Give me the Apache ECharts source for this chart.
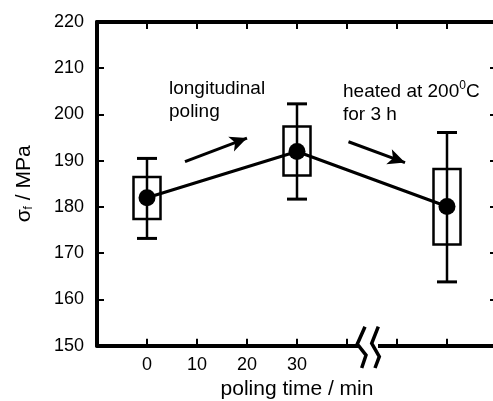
<!DOCTYPE html>
<html>
<head>
<meta charset="utf-8">
<script src="https://cdn.jsdelivr.net/npm/echarts@6/dist/echarts.min.js"></script>
<style>
  html, body { margin: 0; padding: 0; background: #fff; }
  #chart { width: 493px; height: 401px; }
</style>
</head>
<body>
<div id="chart"></div>
<script>
// data
var polingTime = [0, 30, 60];          // 60 = position of the heated sample, after the axis break
var meanValue = [182, 192, 180.1];
var boxLow = [177.4, 186.8, 171.9];
var boxHigh = [186.5, 197.4, 188.2];
var whiskerLow = [173.2, 181.7, 163.8];
var whiskerHigh = [190.5, 202.3, 196.1];
var xTickLabels = ['0', '10', '20', '30'];
var breakAt = 44.2;
// annotation arrows: [x0, y0, x1, y1] in data units
var arrows = [
    [7.6, 189.8, 20, 194.9],
    [40.3, 194.1, 51.6, 189.6]
];

var FONT = 'Liberation Sans, Arial, sans-serif';

var chart = echarts.init(document.getElementById('chart'));

var meanData = polingTime.map(function (x, i) { return [x, meanValue[i]]; });
var boxData = polingTime.map(function (x, i) {
    return [x, whiskerLow[i], boxLow[i], boxHigh[i], whiskerHigh[i]];
});

function renderBox(params, api) {
    var x = api.value(0);
    var wl = api.coord([x, api.value(1)]);
    var bl = api.coord([x, api.value(2)]);
    var bh = api.coord([x, api.value(3)]);
    var wh = api.coord([x, api.value(4)]);
    var cx = wl[0];
    var style = { stroke: '#000', lineWidth: 2.5, fill: null };
    return {
        type: 'group',
        children: [
            { type: 'line', shape: { x1: cx, y1: wl[1], x2: cx, y2: wh[1] }, style: style },
            { type: 'line', shape: { x1: cx - 10, y1: wl[1], x2: cx + 10, y2: wl[1] }, style: { stroke: '#000', lineWidth: 3 } },
            { type: 'line', shape: { x1: cx - 10, y1: wh[1], x2: cx + 10, y2: wh[1] }, style: { stroke: '#000', lineWidth: 3 } },
            { type: 'rect', shape: { x: cx - 13.5, y: bh[1], width: 27, height: bl[1] - bh[1] }, style: style }
        ]
    };
}

// the "<<" axis break on the bottom axis
function renderBreak(params, api) {
    var p = api.coord([api.value(0), 150]);
    var cx = p[0], cy = p[1];
    function pts(list) {
        return list.map(function (d) { return [cx + d[0], cy + d[1]]; });
    }
    var st = { stroke: '#000', lineWidth: 3.5, fill: null, lineJoin: 'miter' };
    return {
        type: 'group',
        children: [
            { type: 'rect', shape: { x: cx - 9, y: cy - 3.5, width: 19, height: 7 }, style: { fill: '#fff' } },
            { type: 'polyline', shape: { points: pts([[-3, -19], [-10.7, -1.7], [-2, 9.5], [-6.3, 22.3]]) }, style: st },
            { type: 'polyline', shape: { points: pts([[10.3, -19], [3.7, -2.4], [11.3, 11], [7, 22.3]]) }, style: st }
        ]
    };
}

var axisLineStyle = { color: '#000', width: 4 };
var tickStyle = { color: '#000', width: 2 };

var option = {
    backgroundColor: '#fff',
    animation: false,
    grid: { left: 97, right: -4, top: 22, bottom: 55.3, containLabel: false, outerBoundsMode: 'none' },
    xAxis: [
        {
            type: 'value', position: 'bottom', min: -10, max: 70, interval: 10,
            axisLine: { onZero: false, lineStyle: axisLineStyle },
            axisTick: { inside: true, length: 7, lineStyle: tickStyle },
            splitLine: { show: false },
            axisLabel: {
                color: '#000', fontSize: 18, fontFamily: FONT, margin: 10,
                formatter: function (v) {
                    return xTickLabels.indexOf(String(v)) >= 0 ? String(v) : '';
                }
            },
            name: 'poling time / min', nameLocation: 'middle', nameGap: 32,
            nameTextStyle: { color: '#000', fontSize: 21, fontFamily: FONT }
        },
        {
            type: 'value', position: 'top', min: -10, max: 70, interval: 10,
            axisLine: { onZero: false, lineStyle: axisLineStyle },
            axisTick: { inside: true, length: 7, lineStyle: tickStyle },
            splitLine: { show: false },
            axisLabel: { show: false }
        }
    ],
    yAxis: [
        {
            type: 'value', position: 'left', min: 150, max: 220, interval: 10,
            axisLine: { show: true, onZero: false, lineStyle: axisLineStyle },
            axisTick: { show: true, inside: true, length: 7, lineStyle: tickStyle },
            splitLine: { show: false },
            axisLabel: { color: '#000', fontSize: 18, fontFamily: FONT, margin: 13 },
            name: '{a|σ}{s|f}{a| / MPa}', nameLocation: 'middle', nameGap: 62,
            nameTextStyle: {
                color: '#000', fontFamily: FONT,
                rich: {
                    a: { fontSize: 21, fontFamily: FONT, color: '#000' },
                    s: { fontSize: 12, fontFamily: FONT, color: '#000', verticalAlign: 'bottom' }
                }
            }
        },
        {
            type: 'value', position: 'right', min: 150, max: 220, interval: 10,
            axisLine: { show: true, onZero: false, lineStyle: axisLineStyle },
            axisTick: { show: true, inside: true, length: 7, lineStyle: tickStyle },
            splitLine: { show: false },
            axisLabel: { show: false }
        }
    ],
    series: [
        {
            type: 'line',
            data: meanData,
            showSymbol: false,
            lineStyle: { color: '#000', width: 3 },
            z: 2,
            markLine: {
                silent: true,
                symbol: ['none', 'arrow'],
                symbolSize: [12, 17],
                label: { show: false },
                lineStyle: { color: '#000', width: 3, type: 'solid' },
                data: arrows.map(function (a) {
                    return [{ coord: [a[0], a[1]] }, { coord: [a[2], a[3]] }];
                })
            }
        },
        {
            type: 'custom',
            renderItem: renderBox,
            data: boxData,
            encode: { x: 0, y: [1, 2, 3, 4] },
            z: 3
        },
        {
            type: 'scatter',
            data: meanData,
            symbolSize: 17,
            itemStyle: { color: '#000', opacity: 1 },
            z: 4
        },
        {
            type: 'custom',
            renderItem: renderBreak,
            data: [[breakAt]],
            encode: { x: 0 },
            clip: false,
            silent: true,
            z: 5
        }
    ],
    graphic: [
        {
            type: 'text', left: 169, top: 77,
            style: {
                text: 'longitudinal\npoling',
                font: '19px ' + FONT, fill: '#000', lineHeight: 23
            }
        },
        {
            type: 'text', left: 343, top: 80,
            style: {
                text: '{a|heated at 200}{s|0}{a|C}\n{a|for 3 h}',
                fill: '#000',
                rich: {
                    a: { fontSize: 19, fontFamily: FONT, lineHeight: 23, fill: '#000' },
                    s: { fontSize: 12, fontFamily: FONT, lineHeight: 23, verticalAlign: 'top', fill: '#000' }
                }
            }
        }
    ]
};

chart.setOption(option);
</script>
</body>
</html>
